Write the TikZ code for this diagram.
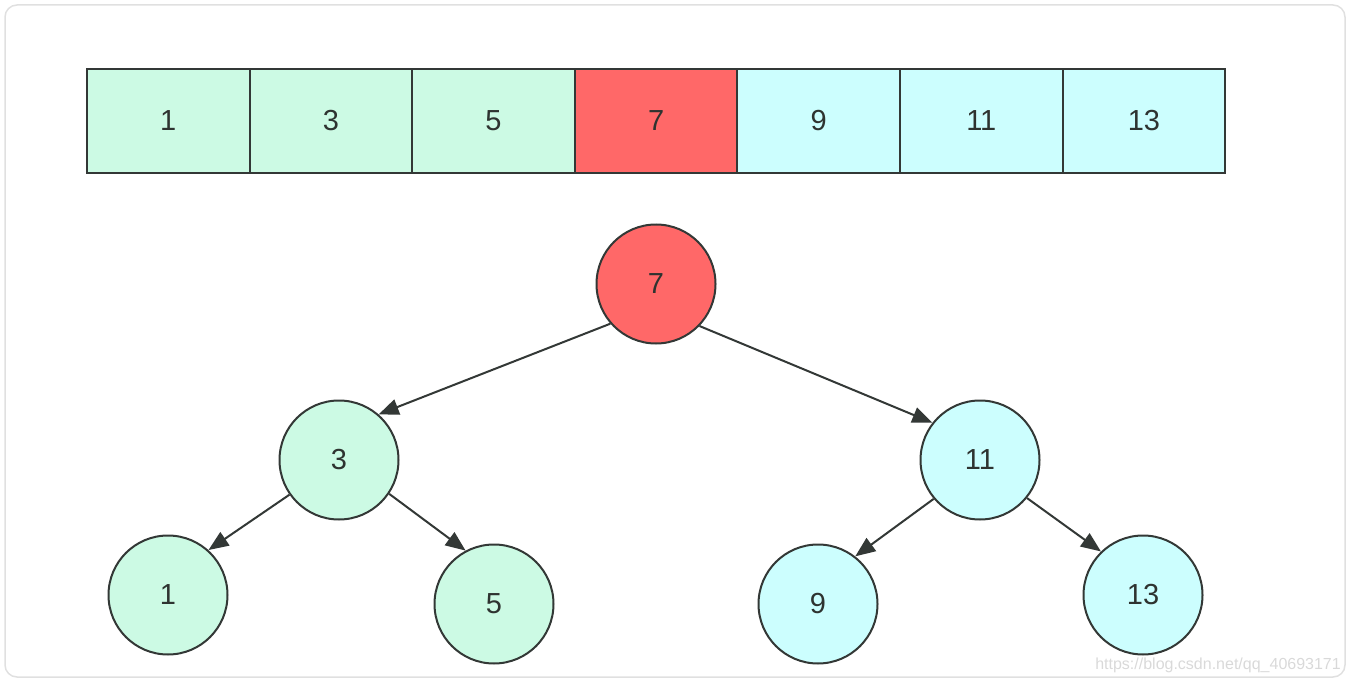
\documentclass[tikz,border=0pt]{standalone}
\usepackage{fontspec}
\setmainfont{Liberation Sans}
\usetikzlibrary{arrows.meta}
\definecolor{cgreen}{HTML}{CCFAE4}
\definecolor{cred}{HTML}{FF6868}
\definecolor{ccyan}{HTML}{CCFEFE}
\definecolor{cline}{HTML}{333836}
\definecolor{ctext}{HTML}{2E3330}
\begin{document}
\begin{tikzpicture}[x=1pt,y=-1pt,
  cell/.style={draw=cline,line width=2pt,minimum width=162.6pt,minimum height=104pt,inner sep=0pt,text=ctext,font=\fontsize{29}{34}\selectfont},
  tnode/.style={circle,draw=cline,line width=2pt,minimum size=119pt,inner sep=0pt,text=ctext,font=\fontsize{29}{34}\selectfont},
  edge/.style={draw=cline,line width=2pt,-{Triangle[length=20pt,width=16pt]}}]
\useasboundingbox (0,0) rectangle (1350,682);
\draw[draw=black!12,line width=1.5pt,rounded corners=12pt] (5,5) rectangle (1345,677);
% array
\node[cell,fill=cgreen] (a1) at (168.3,121) {1};
\node[cell,fill=cgreen] (a3) at (330.9,121) {3};
\node[cell,fill=cgreen] (a5) at (493.5,121) {5};
\node[cell,fill=cred] (a7) at (656.1,121) {7};
\node[cell,fill=ccyan] (a9) at (818.7,121) {9};
\node[cell,fill=ccyan] (a11) at (981.3,121) {11};
\node[cell,fill=ccyan] (a13) at (1143.9,121) {13};
% tree
\node[tnode,fill=cred] (t7) at (656,284) {7};
\node[tnode,fill=cgreen] (t3) at (339,460) {3};
\node[tnode,fill=ccyan] (t11) at (980,460) {11};
\node[tnode,fill=cgreen] (t1) at (168,595) {1};
\node[tnode,fill=cgreen] (t5) at (494,604) {5};
\node[tnode,fill=ccyan] (t9) at (818,604) {9};
\node[tnode,fill=ccyan] (t13) at (1143,595) {13};
\draw[edge] (t7.221) -- (t3.49);
\draw[edge] (t7.316) -- (t11.142);
\draw[edge] (t3.215) -- (t1.48);
\draw[edge] (t3.326) -- (t5.118);
\draw[edge] (t11.220) -- (t9.52);
\draw[edge] (t11.321) -- (t13.134);
\node[anchor=base east,text=black!15,font=\fontsize{16}{18}\selectfont,inner sep=0pt] (wm) at (1341,669) {https://blog.csdn.net/qq\_40693171};
\end{tikzpicture}
\end{document}
